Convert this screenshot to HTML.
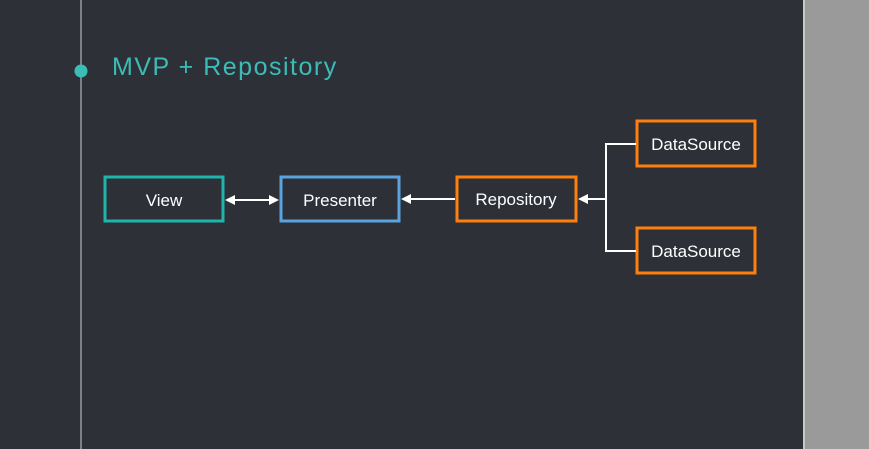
<!DOCTYPE html>
<html><head><meta charset="utf-8"><style>
html,body{margin:0;padding:0;width:869px;height:449px;overflow:hidden;background:#9a9a9a}
</style></head><body>
<svg width="869" height="449" xmlns="http://www.w3.org/2000/svg" style="display:block">
<rect x="0" y="0" width="803" height="449" fill="#2e3038"/>
<rect x="803" y="0" width="2" height="449" fill="#c8c8c8"/>
<rect x="80" y="0" width="2" height="449" fill="#7d7f86"/>
<circle cx="81" cy="71" r="6.5" fill="#3bbdb7"/>
<text x="112" y="75" font-family="Liberation Sans, sans-serif" font-size="25" fill="#3bbdb7" letter-spacing="1.5" font-weight="300">MVP + Repository</text>
<g fill="none" stroke-width="3">
<rect x="105" y="177" width="118" height="44" stroke="#1fb5ac"/>
<rect x="281" y="177" width="118" height="44" stroke="#5aa3de"/>
<rect x="457" y="177" width="119" height="44" stroke="#ff7f0e"/>
<rect x="637" y="121" width="118" height="45" stroke="#ff7f0e"/>
<rect x="637" y="228" width="118" height="45" stroke="#ff7f0e"/>
</g>
<g stroke="#fff" stroke-width="2" fill="none">
<line x1="232" y1="200" x2="271" y2="200"/>
<line x1="409" y1="199" x2="455" y2="199"/>
<line x1="586" y1="199" x2="606" y2="199"/>
<polyline points="636,144 606,144 606,251 636,251"/>
</g>
<g fill="#fff">
<polygon points="225,200 235,195 235,205"/>
<polygon points="279,200 269,195 269,205"/>
<polygon points="401,199 411,194 411,204"/>
<polygon points="578,199 588,194 588,204"/>
</g>
<g font-family="Liberation Sans, sans-serif" font-size="17" fill="#fff" text-anchor="middle">
<text x="164" y="206">View</text>
<text x="340" y="206">Presenter</text>
<text x="516" y="205">Repository</text>
<text x="696" y="150">DataSource</text>
<text x="696" y="257">DataSource</text>
</g>
</svg>
</body></html>
